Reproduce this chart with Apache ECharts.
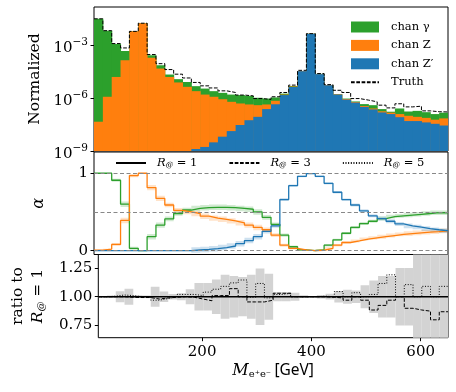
<!DOCTYPE html>
<html>
<head>
<meta charset="utf-8">
<script src="https://cdn.jsdelivr.net/npm/echarts@6/dist/echarts.min.js"></script>
<style>
html, body { margin: 0; padding: 0; background: #fff; }
#chart { width: 456px; height: 392px; }
</style>
</head>
<body>
<div id="chart"></div>
<script>
// histogram bins in GeV
var binEdges = [10, 26, 42, 58, 74, 90, 106, 122, 138, 154, 170, 186, 202, 218, 234, 250, 266, 282, 298, 314,
    330, 346, 362, 378, 394, 410, 426, 442, 458, 474, 490, 506, 522, 538, 554, 570, 586, 602, 618, 634, 650];

// top panel, stacked levels (Z' bottom, then Z, then gamma on top)
var stackZp = [null, null, null, null, null, null, null, null, null, null, null,
    1.3e-9, 1.7e-9, 3.1e-9, 6.5e-9, 1.35e-8, 3.0e-8, 5.6e-8, 8.7e-8, 2.4e-7,
    4.5e-7, 1.5e-6, 4.3e-6, 3.4e-5, 4.6e-3, 2.3e-5, 5.4e-6, 1.6e-6, 8.3e-7, 5.6e-7,
    3.2e-7, 2.3e-7, 1.55e-7, 1.25e-7, 8.3e-8, 5.0e-8, 5.0e-8, 4.2e-8, 3.5e-8, 2.8e-8];
var stackZ = [4.6e-8, 1.2e-6, 1.6e-5, 1.4e-4, 6.2e-3, 1.8e-2, 2.0e-4, 4.8e-5, 1.6e-5, 7.8e-6,
    4.4e-6, 2.5e-6, 1.6e-6, 1.2e-6, 8.7e-7, 6.2e-7, 5.0e-7, 4.4e-7, 4.0e-7, 4.4e-7,
    7.1e-7, 1.6e-6, 4.6e-6, 3.45e-5, 4.6e-3, 2.3e-5, 5.5e-6, 1.65e-6, 8.9e-7, 6.0e-7,
    3.6e-7, 2.6e-7, 1.8e-7, 1.5e-7, 1.25e-7, 1.0e-7, 8.7e-8, 7.6e-8, 6.0e-8, 7.1e-8];
var stackGamma = [3.2e-2, 6.8e-3, 1.2e-3, 4.8e-4, 6.2e-3, 1.8e-2, 2.7e-4, 7.4e-5, 2.2e-5, 1.2e-5,
    8.3e-6, 4.8e-6, 3.5e-6, 2.5e-6, 2.0e-6, 1.6e-6, 1.5e-6, 1.35e-6, 1.05e-6, 9.5e-7,
    1.1e-6, 1.8e-6, 4.9e-6, 3.5e-5, 4.6e-3, 2.4e-5, 5.6e-6, 1.7e-6, 9.5e-7, 6.5e-7,
    4.6e-7, 4.0e-7, 2.4e-7, 1.7e-7, 2.6e-7, 1.75e-7, 1.9e-7, 1.6e-7, 1.25e-7, 1.5e-7];
var truth = [3.2e-2, 6.8e-3, 1.26e-3, 7.1e-4, 6.2e-3, 1.8e-2, 3.0e-4, 9.1e-5, 4.2e-5, 2.3e-5,
    1.4e-5, 7.8e-6, 5.0e-6, 3.8e-6, 2.6e-6, 2.1e-6, 1.5e-6, 1.35e-6, 9.5e-7, 8.5e-7,
    1.2e-6, 2.1e-6, 5.5e-6, 3.8e-5, 4.6e-3, 2.5e-5, 5.9e-6, 2.8e-6, 2.1e-6, 9.5e-7,
    7.8e-7, 6.2e-7, 4.0e-7, 2.8e-7, 4.8e-7, 3.2e-7, 3.5e-7, 1.9e-7, 1.7e-7, 1.65e-7];

// middle panel, channel weights alpha
var alphaGamma = [1.0, 1.0, 0.91, 0.60, 0.03, 0.0, 0.18, 0.33, 0.41, 0.48,
    0.525, 0.545, 0.555, 0.56, 0.56, 0.555, 0.545, 0.535, 0.50, 0.43,
    0.34, 0.2, 0.05, 0.01, 0.0, 0.01, 0.07, 0.14, 0.225, 0.30,
    0.35, 0.38, 0.415, 0.44, 0.45, 0.46, 0.47, 0.48, 0.49, 0.49];
var alphaZ = [0.005, 0.02, 0.08, 0.39, 0.97, 1.0, 0.815, 0.675, 0.59, 0.52,
    0.50, 0.48, 0.445, 0.42, 0.405, 0.385, 0.36, 0.33, 0.30, 0.27,
    0.2, 0.07, 0.03, 0.01, 0.0, 0.005, 0.03, 0.07, 0.105, 0.125,
    0.15, 0.165, 0.18, 0.195, 0.21, 0.22, 0.23, 0.24, 0.245, 0.255];
var alphaZp = [0, 0, 0, 0, 0, 0, 0, 0, 0, 0,
    0, 0.008, 0.015, 0.025, 0.04, 0.06, 0.09, 0.13, 0.18, 0.25,
    0.32, 0.66, 0.84, 0.96, 0.995, 0.96, 0.87, 0.755, 0.66, 0.59,
    0.515, 0.45, 0.415, 0.38, 0.345, 0.32, 0.305, 0.285, 0.27, 0.257];
var alphaErr = [0.005, 0.005, 0.02, 0.035, 0.02, 0.005, 0.035, 0.035, 0.03, 0.03,
    0.03, 0.035, 0.035, 0.035, 0.035, 0.035, 0.035, 0.035, 0.035, 0.03,
    0.025, 0.02, 0.015, 0.01, 0.005, 0.01, 0.015, 0.015, 0.015, 0.02,
    0.02, 0.02, 0.025, 0.025, 0.025, 0.03, 0.03, 0.03, 0.03, 0.03];

// bottom panel, ratio to R@=1
var ratioR1 = [1, 1, 1, 1, 1, 1, 1, 1, 1, 1, 1, 1, 1, 1, 1, 1, 1, 1, 1, 1,
    1, 1, 1, 1, 1, 1, 1, 1, 1, 1, 1, 1, 1, 1, 1, 1, 1, 1, 1, 1];
var ratioR3 = [1.0, 1.0, 1.0, 0.995, 0.993, 0.993, 0.98, 0.99, 0.995, 1.0,
    0.995, 0.98, 0.965, 1.01, 1.01, 1.07, 1.0, 0.955, 0.955, 0.97,
    1.03, 1.03, 1.0, 1.0, 1.0, 1.0, 0.995, 0.99, 0.97, 1.0,
    0.97, 0.885, 0.925, 0.97, 1.0, 0.9, 0.885, 0.875, 0.8, 0.87];
var ratioR5 = [1.0, 1.005, 1.015, 1.01, 1.0, 1.0, 0.97, 0.985, 1.0, 1.02,
    1.02, 1.01, 1.04, 1.065, 1.09, 1.12, 1.145, 0.995, 1.115, 0.99,
    1.02, 1.03, 1.0, 1.0, 1.0, 1.005, 1.0, 1.045, 1.0, 1.035,
    1.0, 1.02, 1.115, 1.19, 1.0, 1.105, 1.0, 1.09, 1.0, 1.09];
var ratioErr = [0.006, 0.01, 0.047, 0.07, 0.012, 0.01, 0.087, 0.045, 0.023, 0.03,
    0.065, 0.12, 0.12, 0.15, 0.19, 0.18, 0.17, 0.19, 0.245, 0.2,
    0.04, 0.04, 0.035, 0.012, 0.006, 0.015, 0.025, 0.05, 0.06, 0.055,
    0.1, 0.14, 0.18, 0.18, 0.25, 0.25, 0.5, 0.5, 0.5, 0.5];

var xTicks = [200, 400, 600];
var legendTop = ['chan γ', 'chan Z', 'chan Z′', 'Truth'];
var legendMid = ['R@ = 1', 'R@ = 3', 'R@ = 5'];

var C_GAMMA = '#2ca02c', C_Z = '#ff7f0e', C_ZP = '#1f77b4';
var FONT = 'DejaVu Serif';
var Y_FLOOR = 1e-9;

function stepData(vals) {
    var pts = vals.map(function (v, i) { return [binEdges[i], v]; });
    pts.push([binEdges[binEdges.length - 1], vals[vals.length - 1]]);
    return pts;
}
function binData(vals) {
    var out = [];
    vals.forEach(function (v, i) {
        if (v != null) out.push([binEdges[i], binEdges[i + 1], v]);
    });
    return out;
}
function bandData(vals, err) {
    var out = [];
    vals.forEach(function (v, i) {
        if (v > 0) out.push([binEdges[i], binEdges[i + 1], v - err[i], v + err[i]]);
    });
    return out;
}
function fillBins(color) {
    return function (params, api) {
        var a = api.coord([api.value(0), api.value(2)]);
        var b = api.coord([api.value(1), Y_FLOOR]);
        return { type: 'rect', shape: { x: a[0], y: a[1], width: b[0] - a[0] + 0.5, height: b[1] - a[1] },
            style: { fill: color } };
    };
}
function fillBand(color) {
    return function (params, api) {
        var a = api.coord([api.value(0), api.value(3)]);
        var b = api.coord([api.value(1), api.value(2)]);
        return { type: 'rect', shape: { x: a[0], y: a[1], width: b[0] - a[0], height: b[1] - a[1] },
            style: { fill: color } };
    };
}

var tickText = { fontFamily: FONT, fontSize: 15, color: '#000' };
var nameText = { fontFamily: FONT, fontSize: 15.5, color: '#000' };
var subRich = {
    r: { fontFamily: FONT, fontStyle: 'italic', fontSize: 15.5, color: '#000' },
    s: { fontFamily: FONT, fontStyle: 'italic', fontSize: 10, color: '#000', padding: [7, 0, 0, 0] },
    t: { fontFamily: FONT, fontSize: 15.5, color: '#000' }
};
var noMarker = { color: 'transparent', opacity: 0, borderWidth: 0 };

function xAxisFor(i, showLabels) {
    var ax = {
        type: 'value', gridIndex: i, min: 10, max: 650,
        axisLine: { show: false }, splitLine: { show: false },
        axisTick: { show: showLabels, customValues: xTicks, length: 3.5, lineStyle: { color: '#000' } },
        axisLabel: { show: showLabels, customValues: xTicks, margin: 7, fontFamily: FONT, fontSize: 15, color: '#000' }
    };
    if (showLabels) {
        ax.name = '{m|M}{s|e⁺e⁻} {g|[GeV]}';
        ax.nameLocation = 'middle';
        ax.nameGap = 24;
        ax.nameTextStyle = {
            rich: {
                m: { fontFamily: FONT, fontStyle: 'italic', fontSize: 16, color: '#000' },
                s: { fontFamily: FONT, fontSize: 10, color: '#000', padding: [8, 0, 0, 0] },
                g: { fontFamily: 'Noto Sans', fontSize: 15.5, color: '#000' }
            }
        };
    }
    return ax;
}

var chart = echarts.init(document.getElementById('chart'));
chart.setOption({
    animation: false,
    grid: [
        { left: 94, right: 8, top: 7, height: 144, show: true, borderColor: '#000', borderWidth: 1, backgroundColor: 'transparent' },
        { left: 94, right: 8, top: 152, height: 102.5, show: true, borderColor: '#000', borderWidth: 1, backgroundColor: 'transparent' },
        { left: 94, right: 8, top: 254.5, height: 83.2, show: true, borderColor: '#000', borderWidth: 1, backgroundColor: 'transparent' }
    ],
    xAxis: [xAxisFor(0, false), xAxisFor(1, false), xAxisFor(2, true)],
    yAxis: [
        {
            type: 'log', logBase: 10, gridIndex: 0, min: 1e-9, max: 0.15,
            axisLine: { show: false }, splitLine: { show: false }, minorTick: { show: false },
            axisTick: { customValues: [1e-9, 1e-6, 1e-3], length: 3.5, lineStyle: { color: '#000' } },
            axisLabel: {
                customValues: [1e-9, 1e-6, 1e-3], margin: 6,
                formatter: function (v) { return '{b|10}{e|−' + Math.round(-Math.log10(v)) + '}'; },
                rich: {
                    b: { fontFamily: FONT, fontSize: 15, color: '#000', padding: [6, 0, 0, 0] },
                    e: { fontFamily: FONT, fontSize: 10.5, color: '#000', padding: [0, 0, 6, 0] }
                }
            },
            name: 'Normalized', nameLocation: 'middle', nameGap: 45, nameTextStyle: nameText
        },
        {
            type: 'value', gridIndex: 1, min: -0.05, max: 1.275,
            axisLine: { show: false }, splitLine: { show: false },
            axisTick: { customValues: [0, 1], length: 3.5, lineStyle: { color: '#000' } },
            axisLabel: Object.assign({ customValues: [0, 1], margin: 6 }, tickText),
            name: 'α', nameLocation: 'middle', nameGap: 47,
            nameTextStyle: { fontFamily: FONT, fontStyle: 'italic', fontSize: 16, color: '#000' }
        },
        {
            type: 'value', gridIndex: 2, min: 0.645, max: 1.366,
            axisLine: { show: false }, splitLine: { show: false },
            axisTick: { customValues: [0.75, 1, 1.25], length: 3.5, lineStyle: { color: '#000' } },
            axisLabel: Object.assign({ customValues: [0.75, 1, 1.25], margin: 6,
                formatter: function (v) { return v.toFixed(2); } }, tickText),
            name: '{t|ratio to}\n{r|R}{s|@}{t| = 1}', nameLocation: 'middle', nameGap: 48,
            nameTextStyle: { rich: subRich, lineHeight: 20 }
        }
    ],
    legend: [
        {
            data: [
                { name: legendTop[0], icon: 'rect' },
                { name: legendTop[1], icon: 'rect' },
                { name: legendTop[2], icon: 'rect' },
                { name: legendTop[3], itemStyle: noMarker }
            ],
            orient: 'vertical', left: 350, top: 21, padding: 0,
            itemWidth: 28, itemHeight: 11, itemGap: 6.4,
            textStyle: { fontFamily: FONT, fontSize: 11.5, color: '#000', padding: [0, 0, 0, 7] }
        },
        {
            data: legendMid.map(function (n) { return { name: n, itemStyle: noMarker }; }),
            orient: 'horizontal', left: 115, top: 157, padding: 0,
            itemWidth: 30, itemHeight: 12, itemGap: 31,
            formatter: function (name) { return '{r|R}{s|@}{t| = ' + name.slice(-1) + '}'; },
            textStyle: {
                padding: [0, 0, 0, 6],
                rich: {
                    r: { fontFamily: FONT, fontStyle: 'italic', fontSize: 11.5, color: '#000' },
                    s: { fontFamily: FONT, fontStyle: 'italic', fontSize: 7.5, color: '#000', padding: [5, 0, 0, 0] },
                    t: { fontFamily: FONT, fontSize: 11.5, color: '#000' }
                }
            }
        }
    ],
    series: [
        // top panel fills
        { name: legendTop[0], type: 'custom', xAxisIndex: 0, yAxisIndex: 0, clip: true,
          itemStyle: { color: C_GAMMA }, encode: { x: [0, 1], y: 2 },
          data: binData(stackGamma), renderItem: fillBins(C_GAMMA) },
        { name: legendTop[1], type: 'custom', xAxisIndex: 0, yAxisIndex: 0, clip: true,
          itemStyle: { color: C_Z }, encode: { x: [0, 1], y: 2 },
          data: binData(stackZ), renderItem: fillBins(C_Z) },
        { name: legendTop[2], type: 'custom', xAxisIndex: 0, yAxisIndex: 0, clip: true,
          itemStyle: { color: C_ZP }, encode: { x: [0, 1], y: 2 },
          data: binData(stackZp), renderItem: fillBins(C_ZP) },
        { name: legendTop[3], type: 'line', xAxisIndex: 0, yAxisIndex: 0, step: 'end',
          symbol: 'none', data: stepData(truth), z: 5,
          lineStyle: { color: '#000', width: 1, type: [3.7, 1.6] }, itemStyle: { color: '#000' } },

        // middle panel bands
        { name: 'band γ', type: 'custom', xAxisIndex: 1, yAxisIndex: 1, clip: true,
          encode: { x: [0, 1], y: [2, 3] }, data: bandData(alphaGamma, alphaErr),
          renderItem: fillBand('rgba(44,160,44,0.22)') },
        { name: 'band Z', type: 'custom', xAxisIndex: 1, yAxisIndex: 1, clip: true,
          encode: { x: [0, 1], y: [2, 3] }, data: bandData(alphaZ, alphaErr),
          renderItem: fillBand('rgba(255,127,14,0.22)') },
        { name: 'band Zp', type: 'custom', xAxisIndex: 1, yAxisIndex: 1, clip: true,
          encode: { x: [0, 1], y: [2, 3] }, data: bandData(alphaZp, alphaErr),
          renderItem: fillBand('rgba(31,119,180,0.22)') },
        // middle panel alpha lines
        { name: 'alpha γ', type: 'line', xAxisIndex: 1, yAxisIndex: 1, step: 'end', symbol: 'none',
          data: stepData(alphaGamma), lineStyle: { color: C_GAMMA, width: 1.3 }, z: 4,
          markLine: { silent: true, symbol: 'none', label: { show: false }, animation: false,
              lineStyle: { color: '#888', width: 1, type: [4, 2.5] },
              data: [{ yAxis: 0 }, { yAxis: 0.5 }, { yAxis: 1 }] } },
        { name: 'alpha Z', type: 'line', xAxisIndex: 1, yAxisIndex: 1, step: 'end', symbol: 'none',
          data: stepData(alphaZ), lineStyle: { color: C_Z, width: 1.3 }, z: 4 },
        { name: 'alpha Zp', type: 'line', xAxisIndex: 1, yAxisIndex: 1, step: 'end', symbol: 'none',
          data: stepData(alphaZp), lineStyle: { color: C_ZP, width: 1.3 }, z: 4 },

        // bottom panel
        { name: 'ratio band', type: 'custom', xAxisIndex: 2, yAxisIndex: 2, clip: true,
          encode: { x: [0, 1], y: [2, 3] }, data: bandData(ratioR1, ratioErr),
          renderItem: fillBand('#d3d3d3') },
        { name: legendMid[0], type: 'line', xAxisIndex: 2, yAxisIndex: 2, step: 'end', symbol: 'none', clip: true,
          data: stepData(ratioR1), lineStyle: { color: '#000', width: 1.3 }, itemStyle: { color: '#000' }, z: 5 },
        { name: legendMid[1], type: 'line', xAxisIndex: 2, yAxisIndex: 2, step: 'end', symbol: 'none', clip: true,
          data: stepData(ratioR3), lineStyle: { color: '#000', width: 1, type: [3.7, 1.6] }, itemStyle: { color: '#000' }, z: 4 },
        { name: legendMid[2], type: 'line', xAxisIndex: 2, yAxisIndex: 2, step: 'end', symbol: 'none', clip: true,
          data: stepData(ratioR5), lineStyle: { color: '#000', width: 1, type: [1, 1.65] }, itemStyle: { color: '#000' }, z: 4 }
    ]
});
</script>
</body>
</html>
